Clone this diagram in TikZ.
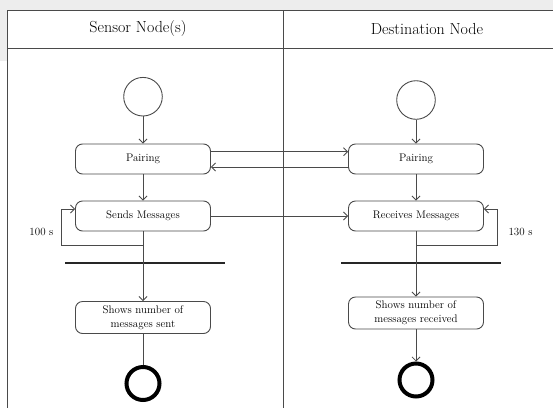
\documentclass[tikz,border=0pt]{standalone}
\usepackage{tikz}
\usetikzlibrary{arrows.meta,positioning,calc}
\definecolor{edge}{HTML}{4A4A4A}
\definecolor{pagegray}{HTML}{EDEDED}
\tikzstyle{action} = [draw=edge, line width=0.9pt, rounded corners=7pt, fill=white,
  minimum width=135pt, minimum height=30pt, inner sep=1pt, align=center,
  font=\fontsize{11}{14}\selectfont]
\tikzstyle{startnode} = [draw=edge, line width=0.9pt, circle, minimum size=38.6pt, inner sep=0pt]
\tikzstyle{endnode} = [draw=black, line width=4pt, circle, minimum size=33pt, inner sep=0pt]
\tikzstyle{syncbar} = [fill=black!85, minimum width=160pt, minimum height=2.6pt, inner sep=0pt]
\tikzstyle{flow} = [-{Straight Barb[length=4pt,width=8pt]}, draw=edge, line width=0.8pt]
\tikzstyle{lane} = [font=\fontsize{16}{19}\selectfont]

\begin{document}
\begin{tikzpicture}[x=1pt,y=-1pt]
\useasboundingbox (0,0) rectangle (553,407);
\clip (0,0) rectangle (553,407);
% page and swimlanes
\fill[pagegray] (0,0) rectangle (553,61);
\fill[white] (0,61) rectangle (553,407);
\draw[edge, line width=1pt, fill=white] (7,10.3) rectangle (600,450);
\draw[edge, line width=1pt] (7,48) -- (600,48);
\draw[edge, line width=1pt] (283,10.3) -- (283,450);
\node[lane] (laneL) at (138,29) {Sensor Node(s)};
\node[lane] (laneR) at (427,29) {Destination Node};
% sensor side
\node[startnode] (startL) at (143,96.7) {};
\node[action] (pairL) at (143,159) {Pairing};
\node[action] (sendL) at (143,216) {Sends Messages};
\node[syncbar] (barL) at (145,263) {};
\node[action, minimum height=32pt] (showL) at (143,317.5) {Shows number of\\messages sent};
\node[endnode] (endL) at (143,383.5) {};
% destination side
\node[startnode] (startR) at (416,100) {};
\node[action] (pairR) at (416,159) {Pairing};
\node[action] (recvR) at (416,216) {Receives Messages};
\node[syncbar] (barR) at (421,263) {};
\node[action, minimum height=32pt] (showR) at (416,313) {Shows number of\\messages received};
\node[endnode] (endR) at (416,380) {};
% flows
\draw[flow] (startL) -- (pairL);
\draw[flow] (pairL) -- (sendL);
\draw[flow] (startR) -- (pairR);
\draw[flow] (pairR) -- (recvR);
\draw[flow] ([yshift=7.3pt]pairL.east) -- ([yshift=7.3pt]pairR.west);
\draw[flow] ([yshift=-8pt]pairR.west) -- ([yshift=-8pt]pairL.east);
\draw[flow] (sendL) -- (recvR);
\draw[flow] (sendL.south) -- (showL.north);
\draw[flow] (recvR.south) -- (showR.north);
\draw[edge, line width=0.8pt] (showL) -- (endL);
\draw[flow] (showR) -- (endR);
% timer loops
\coordinate (loopL) at (143,245.7);
\coordinate (loopR) at (416,245);
\draw[flow] (loopL) -- ++(-81.3,0) |- ([yshift=7pt]sendL.west);
\draw[flow] (loopR) -- ++(81.7,0) |- ([yshift=7pt]recvR.east);
\node[font=\fontsize{11}{14}\selectfont] (timeL) at (41.5,231.7) {100 s};
\node[font=\fontsize{11}{14}\selectfont] (timeR) at (520.5,231.7) {130 s};
\end{tikzpicture}
\end{document}
